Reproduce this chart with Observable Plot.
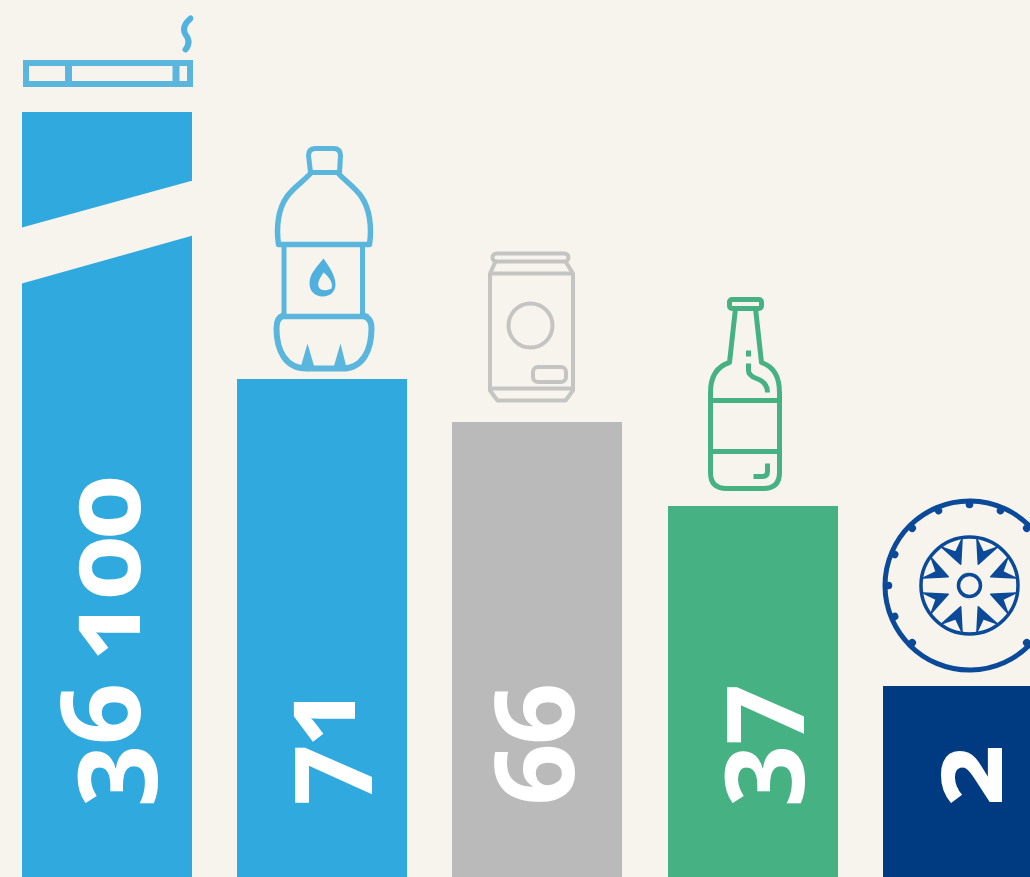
<!DOCTYPE html>
<html>
<head>
<meta charset="utf-8">
<script src="https://cdn.jsdelivr.net/npm/d3@7"></script>
<script src="https://cdn.jsdelivr.net/npm/@observablehq/plot@0.6"></script>
<style>
  html, body { margin: 0; padding: 0; background: #f7f4ee; }
  svg { display: block; }
</style>
</head>
<body>
<div id="chart"></div>
<script>
// Data
const categories = ["Cigarette", "Plastic bottle", "Can", "Glass bottle", "Tyre"];
const values = [36100, 71, 66, 37, 2];
const labels = ["36 100", "71", "66", "37", "2"];
const barColors = ["#2fa9de", "#2fa9de", "#bababa", "#46b283", "#003a80"];

const rows = categories.map((name, i) => ({name, value: values[i], label: labels[i]}));

// The source bars are not drawn to a linear scale: the values pass through a
// piecewise transform (value -> drawn bar height) before the y scale.
const breakValues = [0, 2, 37, 66, 71, 36100];
const breakHeights = [0, 191, 371, 455, 498, 765];
const squash = d3.scaleLinear().domain(breakValues).range(breakHeights);

const bg = "#f7f4ee";
const svgUri = (w, h, vb, body) =>
  "data:image/svg+xml;charset=utf-8," + encodeURIComponent(
    `<svg xmlns="http://www.w3.org/2000/svg" width="${w}" height="${h}" viewBox="${vb}">${body}</svg>`);

// Icon artwork
const cigarette = `<g fill="none" stroke="#5ab6dd" stroke-width="6">
  <path d="M192.5 62.5H25.500V83.500H192.5"/>
  <path d="M68 62V85" stroke-width="7"/>
  <path d="M175.5 62V85" stroke-width="7"/>
  <path d="M189.500 62v23" stroke-width="6"/>
  </g>
  <path d="M190 18c-7 6-8 11-5 16c4 5 4 10 0 15" fill="none" stroke="#52b3e0" stroke-width="6" stroke-linecap="round"/>`;

const bottle = `<g fill="none" stroke="#5ab6dd" stroke-width="5" stroke-linejoin="round">
  <path d="M310 172l-2-17q0-7 7-7h18q7 0 7 7l-1 17z"/>
  <path d="M310 173C298 186 282 192 278 218Q276 230 278 244H369Q371 230 369 218C365 192 350 186 338 173" stroke-width="5.500"/>
  <path d="M283.500 243V315M362 243V315"/>
  <path d="M280 316H368" stroke-width="5.500"/>
  <path d="M283 315Q276 317 276 328C276 350 285 368 306 368H342C362 368 371 350 371 328Q371 317 362 315" stroke-width="6"/>
  </g>
  <path d="M307 343L314 367H300zM340 343L346 367H333z" fill="#5ab6dd"/>
  <path fill-rule="evenodd" fill="#4fb0de" d="M323 258C316 267 309 273 309 283C309 291 315 296 322 296C330 296 335 291 335 284C335 275 329 267 323 258zM323 272C319 278 317 282 318 286C319 290 325 291 331 288C333 282 328 276 323 272z"/>`;

const can = `<g fill="none" stroke="#c4c4c2" stroke-width="4" stroke-linejoin="round">
  <rect x="492" y="253" width="76" height="8" rx="4"/>
  <path d="M495 261L489.500 273V390L497 400H565L572.500 390V273L565 261"/>
  <path d="M489 273H573M489 388H573"/>
  <circle cx="530" cy="325" r="22"/>
  <rect x="532.500" y="366.500" width="33" height="15" rx="5"/>
  </g>`;

const beer = `<g fill="none" stroke="#46b283" stroke-width="5" stroke-linejoin="round" stroke-linecap="butt">
  <rect x="729" y="299" width="32" height="9" rx="2.500"/>
  <path d="M735 308L729 362Q710 368 710 392V472Q710 488 726 488H763Q779 488 779 472V392Q779 368 761 362L755 308"/>
  <path d="M710 400H779M710 451H779"/>
  <path d="M748 350V356M748 363V370Q748 375 756 378Q767 382 767 392"/>
  <path d="M767 463V471Q767 476 762 476H753"/>
  </g>`;

const tyre = (() => {
  const cx = 969, cy = 585, navy = "#0b4a98";
  const rot = (a, body) => `<g transform="rotate(${a} ${cx} ${cy})">${body}</g>`;
  const lug = `<circle cx="${cx}" cy="${cy - 81}" r="3.800" fill="${navy}"/>`;
  const chevron = `<path fill="${navy}" stroke="${navy}" stroke-width="1.500" stroke-linejoin="round" d="M${cx - 11} ${cy - 46}L${cx} ${cy - 23}L${cx + 11} ${cy - 46}L${cx} ${cy - 36}z"/>`;
  let body = `<path d="M1030 526.500A84.500 84.500 0 1 0 1030 643.500" fill="none" stroke="${navy}" stroke-width="5"/>`;
  for (let k = -6; k <= 6; k++) body += rot(k * 22.5, lug);
  for (let k = 0; k < 8; k++) body += rot(22.5 + 45 * k, chevron);
  body += `<circle cx="${cx}" cy="${cy}" r="48.500" fill="none" stroke="${navy}" stroke-width="3.500"/>
    <path d="M${cx} ${cy - 51}A51 51 0 0 0 ${cx} ${cy + 51}A48 48 0 0 1 ${cx} ${cy - 51}z" fill="${navy}"/>
    <circle cx="${cx}" cy="${cy}" r="11" fill="none" stroke="${navy}" stroke-width="3.500"/>
    <path d="M${cx + 2} ${cy - 14}A14 14 0 0 0 ${cx + 2} ${cy + 14}A11 12 0 0 1 ${cx + 2} ${cy - 14}z" fill="${navy}"/>`;
  return body;
})();

const slash = `<path fill="${bg}" d="M20 227.500L194 179.500V234.500L20 283.500z"/>`;

// Placement of the artwork relative to each bar's centre and top
const icons = [
  {name: "Cigarette", v: 36100, w: 172, h: 82, vb: "21 11 172 82", art: cigarette, dx: 0, dy: -60},
  {name: "Plastic bottle", v: 71, w: 130, h: 250, vb: "260 135 130 250", art: bottle, dx: 2.8, dy: -119},
  {name: "Can", v: 66, w: 110, h: 170, vb: "475 240 110 170", art: can, dx: -7.4, dy: -97},
  {name: "Glass bottle", v: 37, w: 100, h: 215, vb: "695 285 100 215", art: beer, dx: -7.6, dy: -113.5},
  {name: "Tyre", v: 2, w: 160, h: 190, vb: "870 490 160 190", art: tyre, dx: -17.8, dy: -101},
  {name: "Cigarette", v: 36100, w: 174, h: 104, vb: "20 180 174 104", art: slash, dx: 0, dy: 120}
];

// Per-label baseline offset from the bar's centre
const labelDx = [32, 32, 36, 34, 34];

const plot = Plot.plot({
  width: 1030,
  height: 877,
  marginTop: 0, marginRight: 0, marginBottom: 0, marginLeft: 0,
  style: {background: bg, letterSpacing: "-3px"},
  x: {type: "band", domain: categories, range: [22, 1052.8], paddingInner: 0.2098, paddingOuter: 0, round: false, axis: null},
  y: {transform: v => squash(v), domain: [0, 765], range: [877, 112], axis: null},
  color: {domain: categories, range: barColors},
  marks: [
    Plot.barY(rows, {x: "name", y: "value", fill: "name", shapeRendering: "crispEdges"}),
    ...icons.map(ic => Plot.image([ic], {
      x: "name", y: "v", width: ic.w, height: ic.h, dx: ic.dx, dy: ic.dy,
      src: svgUri(ic.w, ic.h, ic.vb, ic.art)
    })),
    ...rows.map((r, i) => Plot.text([r], {
      x: "name", y: 0, text: "label", rotate: -90, textAnchor: "start", lineAnchor: "bottom",
      dx: labelDx[i], dy: -71,
      fill: "white", fontSize: 110, fontWeight: 700,
      fontFamily: "'Open Sans'", fontVariant: "oldstyle-nums"
    }))
  ]
});
document.getElementById("chart").appendChild(plot);
</script>
</body>
</html>
